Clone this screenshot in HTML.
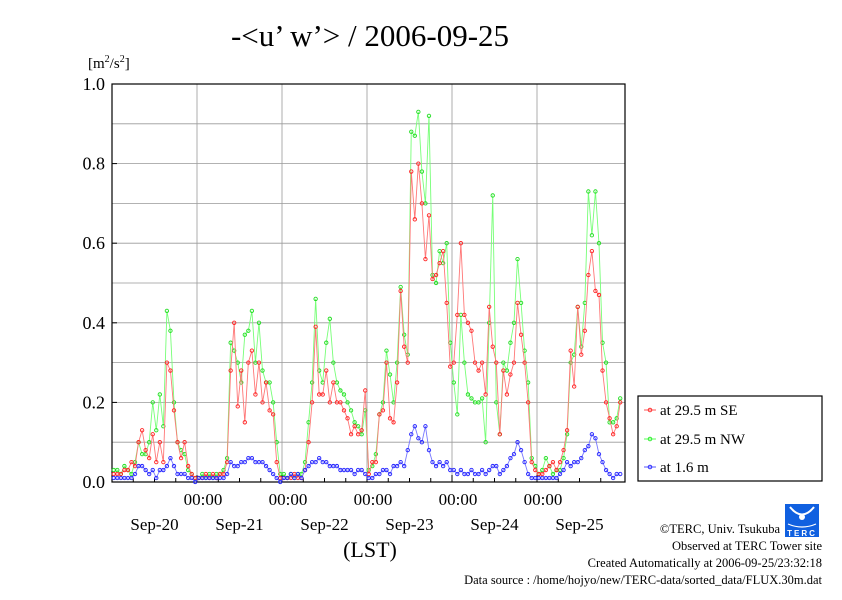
<!DOCTYPE html>
<html><head><meta charset="utf-8"><style>
body{margin:0;background:#fff;width:842px;height:595px;overflow:hidden}
svg text{font-family:"Liberation Serif",serif;fill:#000}
</style></head><body>
<svg id="chart" width="842" height="595" viewBox="0 0 842 595">
<text x="370" y="46" font-size="31" text-anchor="middle">-&lt;u’ w’&gt; / 2006-09-25</text>
<text x="88" y="68" font-size="15">[m<tspan font-size="10" dy="-6">2</tspan><tspan dy="6">/s</tspan><tspan font-size="10" dy="-6">2</tspan><tspan dy="6">]</tspan></text>
<g id="grid"></g>
<g id="axes"></g>
<g id="series"></g>
<text x="370" y="557" font-size="22" text-anchor="middle">(LST)</text>
<g>
<rect x="638" y="396" width="184" height="85" fill="#fff" stroke="#000" stroke-width="1.2"/>
<g><line x1="644" x2="656" y1="410" y2="410" stroke="#f55"/><circle cx="650" cy="410" r="1.8" fill="none" stroke="#f33"/><text x="660" y="415" font-size="15">at 29.5 m SE</text></g>
<g><line x1="644" x2="656" y1="439" y2="439" stroke="#5f5"/><circle cx="650" cy="439" r="1.8" fill="none" stroke="#3e3"/><text x="660" y="444" font-size="15">at 29.5 m NW</text></g>
<g><line x1="644" x2="656" y1="467" y2="467" stroke="#55f"/><circle cx="650" cy="467" r="1.8" fill="none" stroke="#33f"/><text x="660" y="472" font-size="15">at 1.6 m</text></g>
</g>
<g>
<rect x="785" y="504" width="34" height="33" fill="#1060e0"/>
<path d="M790 507 Q802 522 814 507" fill="none" stroke="#fff" stroke-width="2"/>
<circle cx="802" cy="517" r="3" fill="#fff"/>
<path d="M788 524 Q802 530 816 524" fill="none" stroke="#fff" stroke-width="1.2"/>
<text x="802" y="536" font-size="8" text-anchor="middle" style="fill:#fff;font-family:'Liberation Sans',sans-serif;font-weight:bold" letter-spacing="2">TERC</text>
</g>
<g font-size="12.5" text-anchor="end">
<text x="780" y="533">©TERC, Univ. Tsukuba</text>
<text x="822" y="550">Observed at TERC Tower site</text>
<text x="822" y="567">Created Automatically at 2006-09-25/23:32:18</text>
<text x="822" y="584">Data source : /home/hojyo/new/TERC-data/sorted_data/FLUX.30m.dat</text>
</g>
</svg>
<script>
const yTicks=["0.0","0.2","0.4","0.6","0.8","1.0"];
const dayLabels=["Sep-20","Sep-21","Sep-22","Sep-23","Sep-24","Sep-25"];
const midLabel="00:00";
const seriesSE=[0.02,0.02,0.02,0.03,0.03,0.05,0.04,0.1,0.13,0.08,0.06,0.12,0.05,0.1,0.05,0.3,0.28,0.18,0.1,0.06,0.1,0.04,0.02,0.01,
0.01,0.01,0.02,0.01,0.02,0.01,0.02,0.02,0.05,0.28,0.4,0.19,0.28,0.15,0.3,0.33,0.22,0.3,0.2,0.25,0.18,0.17,0.05,0.01,
0.01,0.01,0.01,0.02,0.01,0.01,0.03,0.1,0.2,0.39,0.22,0.22,0.28,0.2,0.25,0.2,0.2,0.18,0.16,0.12,0.14,0.12,0.13,0.23,
0.02,0.05,0.05,0.17,0.18,0.3,0.16,0.15,0.25,0.48,0.34,0.3,0.78,0.66,0.8,0.7,0.56,0.67,0.51,0.52,0.55,0.58,0.45,0.29,
0.3,0.42,0.6,0.42,0.4,0.38,0.3,0.28,0.3,0.22,0.44,0.34,0.3,0.12,0.28,0.22,0.27,0.3,0.45,0.37,0.3,0.2,0.05,0.03,
0.02,0.02,0.03,0.04,0.05,0.03,0.05,0.08,0.13,0.33,0.24,0.44,0.32,0.38,0.52,0.58,0.48,0.47,0.28,0.2,0.16,0.12,0.14,0.2];
const seriesNW=[0.03,0.03,0.02,0.04,0.03,0.02,0.05,0.1,0.07,0.07,0.1,0.2,0.13,0.22,0.14,0.43,0.38,0.2,0.1,0.08,0.07,0.03,0.02,0.01,
0.01,0.02,0.01,0.02,0.01,0.02,0.02,0.03,0.06,0.35,0.33,0.3,0.25,0.37,0.38,0.43,0.3,0.4,0.28,0.25,0.25,0.2,0.1,0.02,
0.02,0.01,0.02,0.01,0.02,0.02,0.05,0.15,0.25,0.46,0.28,0.25,0.35,0.41,0.3,0.25,0.23,0.22,0.2,0.18,0.15,0.14,0.12,0.18,
0.03,0.04,0.07,0.17,0.2,0.33,0.27,0.2,0.3,0.49,0.37,0.32,0.88,0.87,0.93,0.78,0.7,0.92,0.52,0.5,0.58,0.55,0.6,0.35,
0.25,0.17,0.42,0.3,0.22,0.21,0.2,0.2,0.21,0.1,0.4,0.72,0.2,0.12,0.3,0.28,0.35,0.4,0.56,0.45,0.33,0.25,0.06,0.04,
0.02,0.03,0.06,0.04,0.02,0.03,0.03,0.06,0.12,0.3,0.32,0.44,0.34,0.45,0.73,0.62,0.73,0.6,0.35,0.3,0.15,0.15,0.16,0.21];
const series16=[0.01,0.01,0.01,0.01,0.01,0.01,0.02,0.04,0.04,0.03,0.02,0.03,0.01,0.03,0.03,0.04,0.06,0.04,0.02,0.02,0.02,0.01,0.01,0.0,
0.01,0.01,0.01,0.01,0.01,0.01,0.01,0.01,0.02,0.05,0.04,0.04,0.05,0.05,0.06,0.06,0.05,0.05,0.05,0.04,0.03,0.02,0.01,0.0,
0.01,0.01,0.02,0.01,0.02,0.01,0.03,0.04,0.05,0.05,0.06,0.05,0.05,0.04,0.04,0.04,0.03,0.03,0.03,0.03,0.02,0.03,0.03,0.02,
0.01,0.01,0.02,0.02,0.03,0.03,0.02,0.04,0.04,0.05,0.04,0.08,0.12,0.14,0.11,0.1,0.14,0.08,0.05,0.04,0.05,0.04,0.05,0.03,
0.03,0.02,0.03,0.02,0.02,0.03,0.02,0.02,0.03,0.02,0.03,0.04,0.04,0.02,0.03,0.04,0.06,0.07,0.1,0.08,0.05,0.02,0.01,0.01,
0.01,0.01,0.01,0.01,0.01,0.01,0.02,0.03,0.05,0.04,0.05,0.05,0.06,0.08,0.09,0.12,0.11,0.07,0.05,0.03,0.02,0.01,0.02,0.02];
const X0=112,X1=625,Y0=482,Y1=84,DAY=85;
const xs=h=>X0+h*DAY/24;
const ys=v=>Y0-v*(Y0-Y1);
const NS="http://www.w3.org/2000/svg";
function mk(tag,attrs,parent){const e=document.createElementNS(NS,tag);for(const k in attrs)e.setAttribute(k,attrs[k]);parent.appendChild(e);return e;}
const grid=document.getElementById('grid'),axes=document.getElementById('axes'),ser=document.getElementById('series');
for(let i=1;i<10;i++){const l=mk('line',{x1:X0,x2:X1,y1:ys(i/10),y2:ys(i/10),stroke:'#999','stroke-width':0.8},grid);

}
for(let d=1;d<dayLabels.length;d++){const l=mk('line',{x1:xs(d*24),x2:xs(d*24),y1:Y1,y2:Y0,stroke:'#999','stroke-width':0.8},grid);

}
const fr=mk('rect',{x:X0,y:Y1,width:X1-X0,height:Y0-Y1,fill:'none',stroke:'#000','stroke-width':1.2},axes);


yTicks.forEach(t=>{const v=parseFloat(t);const y=ys(v);
mk('line',{x1:X0,x2:X0+5,y1:y,y2:y,stroke:'#000'},axes);
const tx=mk('text',{x:105,y:y+6,'font-size':18,'text-anchor':'end'},axes);tx.textContent=t;

});
for(let h=6;h<dayLabels.length*24;h+=6){mk('line',{x1:xs(h),x2:xs(h),y1:Y0,y2:Y0-(h%24===0?7:4),stroke:'#000'},axes);}
dayLabels.forEach((d,i)=>{const t=mk('text',{x:xs(i*24+12),y:530,'font-size':17,'text-anchor':'middle'},axes);t.textContent=d;


if(i>0){const m=mk('text',{x:xs(i*24)+6,y:505,'font-size':17,'text-anchor':'middle'},axes);m.textContent=midLabel;

}});
function draw(arr,line,mark,name){const g=mk('g',{},ser);


mk('polyline',{points:arr.map((v,i)=>xs(i+0.5)+','+ys(v)).join(' '),fill:'none',stroke:line,'stroke-width':0.9},g);
arr.forEach((v,i)=>{const c=mk('circle',{cx:xs(i+0.5),cy:ys(v),r:1.7,fill:'none',stroke:mark,'stroke-width':0.9},g);

});}
draw(seriesNW,'#7f7','#2d2','series-29-5m-nw');
draw(seriesSE,'#f77','#f22','series-29-5m-se');
draw(series16,'#77f','#22f','series-1-6m');
</script>
</body></html>
